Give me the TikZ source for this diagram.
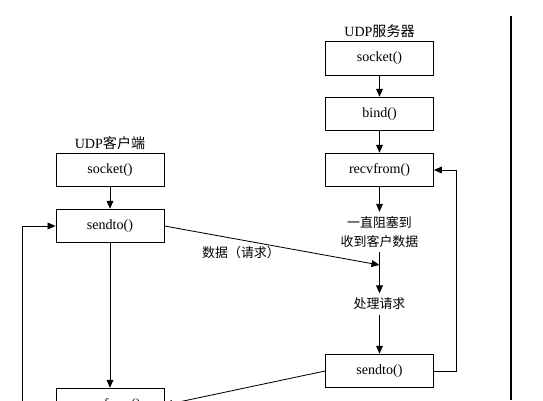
\documentclass[tikz,border=0pt]{standalone}
\usepackage{fontspec}
\setmainfont{Liberation Serif}
\newfontfamily\cjk{Noto Sans CJK SC}
\usetikzlibrary{arrows.meta}

\begin{document}
\begin{tikzpicture}[x=0.025cm, y=-0.025cm, line width=0.6pt,
    >={Triangle[length=2mm, width=1.7mm]},
    funcbox/.style={draw, minimum width=2.7cm, minimum height=0.84cm,
      inner sep=0pt, font=\fontsize{10}{12}\selectfont},
    title/.style={font=\fontsize{10}{12}\selectfont, inner sep=1pt},
    note/.style={font=\cjk\fontsize{9.2}{13.5}\selectfont, align=center, inner sep=3pt}]
    \useasboundingbox (0,0) rectangle (543,400);
    \clip (0,0) rectangle (543,400);
    % server side
    \node[title] at (379.5,31) {UDP{\cjk 服务器}};
    \node[funcbox] (ssock) at (379.5,58.3) {socket()};
    \node[funcbox] (sbind) at (379.5,114) {bind()};
    \node[funcbox] (srecv) at (379.5,170) {recvfrom()};
    \node[note] (swait) at (379.5,232) {一直阻塞到\\收到客户数据};
    \node[note] (sproc) at (379.5,304) {处理请求};
    \node[funcbox] (ssend) at (379.5,371) {sendto()};
    \coordinate (hit) at (379.5,265);
    % client side
    \node[title] at (110,143) {UDP{\cjk 客户端}};
    \node[funcbox] (csock) at (110,170) {socket()};
    \node[funcbox] (csend) at (110,226) {sendto()};
    \node[funcbox] (crecv) at (110,405) {recvfrom()};
    \node[note] (req) at (241,253) {数据（请求）};
    \draw[->] (ssock) -- (sbind);
    \draw[->] (sbind) -- (srecv);
    \draw[->] (srecv) -- (swait);
    \draw[->] (swait) -- (sproc);
    \draw[->] (sproc) -- (ssend);
    \draw[->] (ssend.east) -- ++(22,0) |- (srecv.east);
    \draw[->] (csock) -- (csend);
    \draw[->] (csend) -- (crecv);
    \draw[->] (csend.east) -- (hit);
    \draw[->] (ssend.west) -- (crecv.east);
    \draw[->] (crecv.west) -- ++(-33,0) |- (csend.west);
    \draw[line width=1.6pt] (511,16) -- (511,400);
\end{tikzpicture}
\end{document}
